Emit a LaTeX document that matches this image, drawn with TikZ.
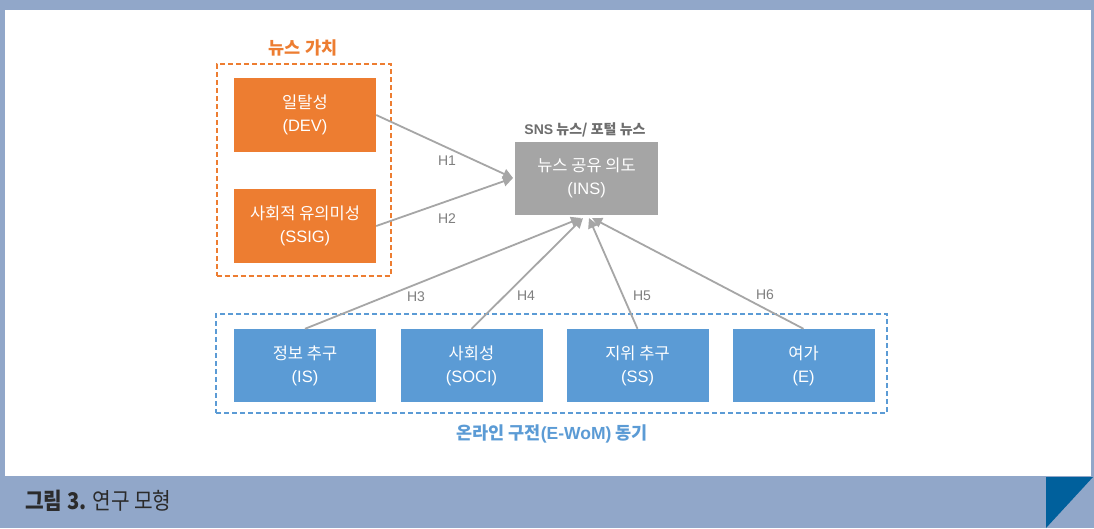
\documentclass[tikz,border=0pt]{standalone}
\usepackage{fontspec}
\setmainfont{Noto Sans CJK KR}
\newfontfamily\lat{Liberation Sans}
\newfontfamily\capfont[FakeStretch=0.88]{Noto Sans CJK KR}
\usetikzlibrary{arrows.meta}
\definecolor{framec}{HTML}{91A7C9}
\definecolor{darkb}{HTML}{00609C}
\definecolor{orangec}{HTML}{ED7D31}
\definecolor{bluec}{HTML}{5B9BD5}
\definecolor{grayc}{HTML}{A5A5A5}
\definecolor{arrc}{HTML}{A6A6A6}
\definecolor{hlab}{HTML}{7F7F7F}
\definecolor{snsc}{HTML}{6E6E6E}
\definecolor{capc}{HTML}{2B2B2B}
\tikzset{
  boxbase/.style={minimum width=142pt, minimum height=74pt, inner sep=0pt, align=center, text=white, font=\fontsize{16.5}{23}\selectfont},
  obox/.style={boxbase, fill=orangec},
  bbox/.style={boxbase, fill=bluec},
  gbox/.style={boxbase, fill=grayc},
  arr/.style={draw=arrc, line width=1.8pt, -{Triangle[length=10pt,width=10pt]}},
  hl/.style={text=hlab, font=\lat\fontsize{14}{16}\selectfont},
  grouptitle/.style={font=\fontsize{17.5}{20}\selectfont\bfseries},
}
\begin{document}
\begin{tikzpicture}[x=1pt,y=-1pt]
\useasboundingbox (0,0) rectangle (1094,528);
\fill[framec] (0,0) rectangle (1094,528);
\fill[white] (5,10) rectangle (1091,476);
\fill[darkb] (1046,477) -- (1093,477) -- (1046,528) -- cycle;

% groups
\node[draw=orangec, dash pattern=on 5pt off 3pt, line width=2pt, minimum width=174pt, minimum height=212pt, inner sep=0pt] (vgroup) at (303.5,170) {};
\node[grouptitle, text=orangec] (vtitle) at (303,48) {뉴스 가치};
\node[draw=bluec, dash pattern=on 5pt off 3pt, line width=2pt, minimum width=671pt, minimum height=99pt, inner sep=0pt] (mgroup) at (551.5,363.5) {};
\node[grouptitle, text=bluec] (mtitle) at (552,434) {온라인 구전{\lat(E-WoM)} 동기};

% boxes
\node[obox] (dev) at (305,115) {일탈성\\{\lat(DEV)}};
\node[obox] (ssig) at (305,226) {사회적 유의미성\\{\lat(SSIG)}};
\node[gbox, minimum width=143pt, minimum height=73pt] (ins) at (586.5,178) {뉴스 공유 의도\\{\lat(INS)}};
\node[text=snsc, font=\fontsize{14}{16}\selectfont\bfseries] (sns) at (585,130) {{\lat SNS} 뉴스/ 포털 뉴스};

\node[bbox, minimum height=73pt] (is) at (305,365.5) {정보 추구\\{\lat(IS)}};
\node[bbox, minimum height=73pt] (soci) at (471.5,365.5) {사회성\\{\lat(SOCI)}};
\node[bbox, minimum height=73pt] (ss) at (637.5,365.5) {지위 추구\\{\lat(SS)}};
\node[bbox, minimum height=73pt] (e) at (803.5,365.5) {여가\\{\lat(E)}};

% arrow targets
\coordinate (tw) at (513,178);
\coordinate (t3) at (581,218);
\coordinate (t4) at (583,218);
\coordinate (t5) at (589,218);
\coordinate (t6) at (592,218);

\draw[arr] (dev.east) -- (tw);
\draw[arr] (ssig.east) -- (tw);
\draw[arr] (is.north) -- (t3);
\draw[arr] (soci.north) -- (t4);
\draw[arr] (ss.north) -- (t5);
\draw[arr] (e.north) -- (t6);

% hypothesis labels
\node[hl] (h1) at (447,161) {H1};
\node[hl] (h2) at (447,219) {H2};
\node[hl] (h3) at (416,297) {H3};
\node[hl] (h4) at (526,296) {H4};
\node[hl] (h5) at (642,296) {H5};
\node[hl] (h6) at (765,295) {H6};

% caption
\node[anchor=west, inner sep=0pt, text=capc, font=\capfont\fontsize{23}{26}\selectfont] (cap) at (25,501) {\textbf{그림 3.} 연구 모형};
\end{tikzpicture}
\end{document}
